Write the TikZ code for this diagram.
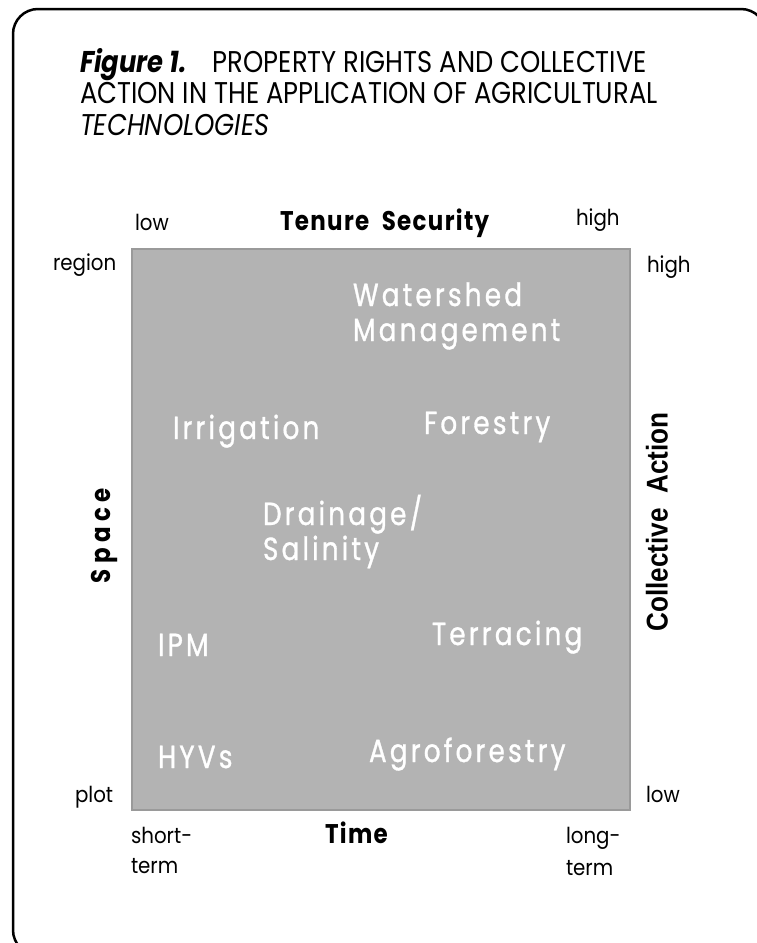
\documentclass[tikz,border=0pt]{standalone}
\usepackage{fontspec}
\setmainfont{Poppins}
\newfontfamily\titlefont[FakeStretch=0.86]{Poppins}
\newfontfamily\whitefont[FakeStretch=0.82,LetterSpace=10,FakeBold=1]{Poppins}
\newfontfamily\axisfont[FakeStretch=0.9]{Poppins}
\newfontfamily\headfont[FakeStretch=0.85,LetterSpace=5]{Poppins}
\newfontfamily\spacefont[FakeStretch=0.85,LetterSpace=20]{Poppins}
\newfontfamily\cafont[FakeStretch=0.87]{Liberation Sans}
\definecolor{boxgray}{HTML}{B3B3B3}
\definecolor{boxedge}{HTML}{9A9A9A}
\begin{document}
\begin{tikzpicture}[x=1pt,y=-1pt,
  txt/.style={inner sep=0pt, outer sep=0pt, anchor=base west},
  title/.style={txt, font=\titlefont\fontsize{30}{34}\selectfont},
  tech/.style={txt, text=white, font=\whitefont\fontsize{32}{36}\selectfont},
  axlab/.style={txt, font=\axisfont\fontsize{22}{26}\selectfont},
  axhead/.style={txt, font=\headfont\bfseries\fontsize{27}{30}\selectfont},
  sphead/.style={inner sep=0pt, outer sep=0pt, font=\spacefont\bfseries\fontsize{27}{30}\selectfont},
  cahead/.style={inner sep=0pt, outer sep=0pt, font=\cafont\bfseries\fontsize{30}{34}\selectfont},
  frame/.style={draw=black, line width=2.5pt, rounded corners=25pt},
  panel/.style={fill=boxgray, draw=boxedge, line width=1.5pt}
]
\path[use as bounding box] (0,0) rectangle (757,943);
\begin{scope}
\clip (0,0) rectangle (757,943);
\draw[frame] (13,9) rectangle (766,955);
\end{scope}
% title
\node[title] (t1) at (80,72) {\makebox[133pt][l]{\textbf{\textit{Figure 1.}}}PROPERTY RIGHTS AND COLLECTIVE};
\node[title] (t2) at (80,103) {ACTION IN THE APPLICATION OF AGRICULTURAL};
\node[title] (t3) at (80,135) {\textit{TECHNOLOGIES}};
% panel
\draw[panel] (132,249) rectangle (630,810);
\node[tech] (ws1) at (353,306) {Watershed};
\node[tech] (ws2) at (353,341) {Management};
\node[tech] (irr) at (173,439) {Irrigation};
\node[tech] (for) at (424,434) {Forestry};
\node[tech] (dr1) at (263,525) {Drainage/};
\node[tech] (dr2) at (263,560) {Salinity};
\node[tech] (ipm) at (158,656) {IPM};
\node[tech] (ter) at (432,645) {Terracing};
\node[tech] (hyv) at (158,768) {HYVs};
\node[tech] (agr) at (369,762) {Agroforestry};
% axes
\node[axlab] (lowt) at (135,230) {low};
\node[axhead] (tenure) at (280,230) {Tenure\ \ Security};
\node[axlab] (hight) at (576,225) {high};
\node[axlab] (region) at (53,270) {region};
\node[axlab] (highr) at (647,272) {high};
\node[axlab] (plot) at (75,802) {plot};
\node[axlab] (lowr) at (646,802) {low};
\node[axlab] (short) at (131,843) {short-};
\node[axlab] (term1) at (131,873) {term};
\node[axhead] (time) at (325,843) {Time};
\node[axlab] (long) at (566,843) {long-};
\node[axlab] (term2) at (566,875) {term};
\node[sphead, anchor=center, rotate=90] (space) at (104,536) {Space};
\node[cahead, anchor=center, rotate=90] (ca) at (657,522) {Collective\ \ Action};
\end{tikzpicture}
\end{document}
